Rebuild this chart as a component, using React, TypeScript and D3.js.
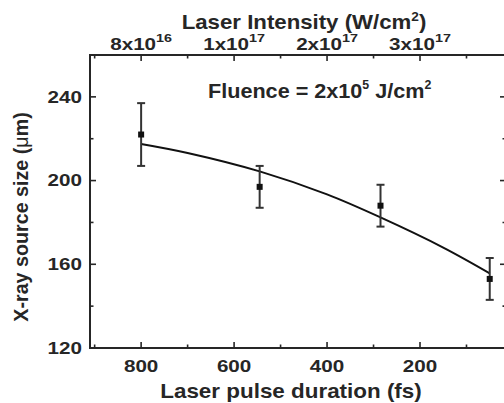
import React, {useEffect, useRef} from 'react';
import * as d3 from 'd3';

// measured points (pulse duration in fs, source size in um)
const durations = [800, 545, 285, 50];
const sizes = [222, 197, 188, 153];
const errors = [15, 10, 10, 10];

// fitted curve
const fitDurations = [800, 700, 545, 400, 285, 150, 50];
const fitSizes = [217.5, 213.2, 204.4, 193.4, 182.4, 168, 155.7];

const xMajor = [800, 600, 400, 200];
const xMinor = [900, 700, 500, 300, 100];
const yMajor = [120, 160, 200, 240];
const yMinor = [140, 180, 220];

const intensityBases = ['8x10', '1x10', '2x10', '3x10'];
const intensityExps = ['16', '17', '17', '17'];

const W = 504, H = 403;
const left = 90, right = 506, top = 55, bottom = 348;
const ink = '#262626';
const font = '"Liberation Sans", Arial, sans-serif';

const App = () => {
    const ref = useRef<SVGSVGElement>(null);

    useEffect(() => {
        const svg = d3.select(ref.current);
        svg.selectAll('*').remove();

        const x = d3.scaleLinear().domain([910, 15]).range([left, right]);
        const y = d3.scaleLinear().domain([120, 260]).range([bottom, top]);

        // frame
        svg.append('rect')
            .attr('x', left).attr('y', top)
            .attr('width', right - left).attr('height', bottom - top)
            .attr('fill', 'none').attr('stroke', ink).attr('stroke-width', 2);

        const tickLine = (x1, y1, x2, y2) => svg.append('line')
            .attr('x1', x1).attr('y1', y1).attr('x2', x2).attr('y2', y2)
            .attr('stroke', ink).attr('stroke-width', 1.6);

        xMajor.forEach(d => { tickLine(x(d), bottom, x(d), bottom - 6); tickLine(x(d), top, x(d), top + 6); });
        xMinor.forEach(d => { tickLine(x(d), bottom, x(d), bottom - 3.5); tickLine(x(d), top, x(d), top + 3.5); });
        yMajor.forEach(d => { tickLine(left, y(d), left + 6, y(d)); tickLine(right, y(d), right - 6, y(d)); });
        yMinor.forEach(d => { tickLine(left, y(d), left + 3.5, y(d)); tickLine(right, y(d), right - 3.5, y(d)); });

        // bottom tick labels
        svg.selectAll('.xlab').data(xMajor).enter().append('text')
            .attr('class', 'xlab')
            .attr('transform', d => `translate(${x(d)},372) scale(1.25,1)`)
            .attr('text-anchor', 'middle')
            .attr('font-family', font).attr('font-weight', 'bold').attr('font-size', 16.5)
            .attr('fill', ink)
            .text(d => d);

        // left tick labels
        svg.selectAll('.ylab').data(yMajor).enter().append('text')
            .attr('class', 'ylab')
            .attr('transform', d => `translate(${left - 8},${y(d) + 5.8}) scale(1.25,1)`)
            .attr('text-anchor', 'end')
            .attr('font-family', font).attr('font-weight', 'bold').attr('font-size', 16.5)
            .attr('fill', ink)
            .text(d => d);

        // top tick labels (intensity)
        const topLabs = svg.selectAll('.tlab').data(xMajor).enter().append('text')
            .attr('class', 'tlab')
            .attr('transform', d => `translate(${x(d)},50) scale(1.25,1)`)
            .attr('text-anchor', 'middle')
            .attr('font-family', font).attr('font-weight', 'bold').attr('font-size', 16.5)
            .attr('fill', ink);
        topLabs.append('tspan').text((d, i) => intensityBases[i]);
        topLabs.append('tspan').attr('dy', -8).attr('font-size', 11.5).text((d, i) => intensityExps[i]);

        // titles
        const top_t = svg.append('text')
            .attr('transform', 'translate(304,29) scale(1.14,1)')
            .attr('text-anchor', 'middle')
            .attr('font-family', font).attr('font-weight', 'bold').attr('font-size', 19.5)
            .attr('fill', ink);
        top_t.append('tspan').text('Laser Intensity (W/cm');
        top_t.append('tspan').attr('dy', -8).attr('font-size', 12).text('2');
        top_t.append('tspan').attr('dy', 8).text(')');

        svg.append('text')
            .attr('transform', 'translate(291,398) scale(1.15,1)')
            .attr('text-anchor', 'middle')
            .attr('font-family', font).attr('font-weight', 'bold').attr('font-size', 19.5)
            .attr('fill', ink)
            .text('Laser pulse duration (fs)');

        const yt = svg.append('text')
            .attr('transform', 'translate(28,217) rotate(-90)')
            .attr('text-anchor', 'middle')
            .attr('font-family', font).attr('font-weight', 'bold').attr('font-size', 19.7)
            .attr('fill', ink);
        yt.append('tspan').text('X-ray source size (');
        yt.append('tspan').attr('font-weight', 'normal').text('μ');
        yt.append('tspan').text('m)');

        const fl = svg.append('text')
            .attr('transform', 'translate(208,98) scale(1.03,1)')
            .attr('font-family', font).attr('font-weight', 'bold').attr('font-size', 21)
            .attr('fill', ink);
        fl.append('tspan').text('Fluence = 2x10');
        fl.append('tspan').attr('dy', -9).attr('font-size', 12).text('5');
        fl.append('tspan').attr('dy', 9).text(' J/cm');
        fl.append('tspan').attr('dy', -9).attr('font-size', 12).text('2');

        // fit curve
        const line = d3.line<number>()
            .x((d, i) => x(fitDurations[i]))
            .y(d => y(d))
            .curve(d3.curveCatmullRom);
        svg.append('path')
            .attr('d', line(fitSizes))
            .attr('fill', 'none').attr('stroke', '#111').attr('stroke-width', 2);

        // error bars and markers
        const g = svg.selectAll('.pt').data(sizes).enter().append('g').attr('class', 'pt');
        g.append('line')
            .attr('x1', (d, i) => x(durations[i])).attr('x2', (d, i) => x(durations[i]))
            .attr('y1', (d, i) => y(d + errors[i])).attr('y2', (d, i) => y(d - errors[i]))
            .attr('stroke', '#333').attr('stroke-width', 2);
        [1, -1].forEach(s => {
            g.append('line')
                .attr('x1', (d, i) => x(durations[i]) - 4).attr('x2', (d, i) => x(durations[i]) + 4)
                .attr('y1', (d, i) => y(d + s * errors[i])).attr('y2', (d, i) => y(d + s * errors[i]))
                .attr('stroke', '#333').attr('stroke-width', 2);
        });
        g.append('rect')
            .attr('x', (d, i) => x(durations[i]) - 3).attr('y', d => y(d) - 3)
            .attr('width', 6).attr('height', 6)
            .attr('fill', '#111');
    }, []);

    return (
        <svg ref={ref} width={W} height={H}
             style={{position: 'absolute', left: 0, top: 0, background: '#fff'}}/>
    );
};

export default App;
